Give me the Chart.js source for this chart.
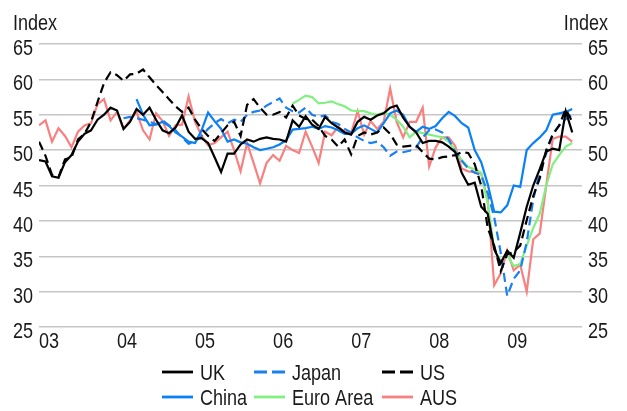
<!DOCTYPE html>
<html>
<head>
<meta charset="utf-8">
<script src="https://cdn.jsdelivr.net/npm/chart.js@4/dist/chart.umd.min.js"></script>
<style>
  html, body { margin: 0; padding: 0; background: #fff; }
</style>
</head>
<body>
<canvas id="chart" width="627" height="411"></canvas>
<script>
// monthly PMI-style index, Jan 2003 = month 0
const yearTicks = [0, 12, 24, 36, 48, 60, 72];
const yearLabels = ['03', '04', '05', '06', '07', '08', '09'];

const uk = [48.6, 48.4, 46.3, 46.1, 48.3, 49.3, 51.2, 52.3, 52.8, 54.3,
  55.0, 56.0, 55.6, 53.0, 54.0, 55.8, 55.0, 56.0, 54.3, 52.8,
  52.4, 53.2, 54.9, 52.6, 51.6, 51.7, 51.0, 49.0, 46.9, 49.5,
  49.5, 50.8, 51.5, 51.2, 51.6, 51.8, 51.6, 51.5, 51.2, 54.2,
  53.3, 54.8, 53.6, 53.0, 54.7, 53.8, 53.2, 52.5, 52.2, 54.0,
  54.7, 54.3, 54.9, 55.2, 56.0, 56.3, 54.6, 53.3, 52.5, 51.0,
  51.3, 51.3, 51.1, 50.5, 49.7, 46.8, 45.1, 45.4, 42.0, 41.0,
  36.0, 34.0, 35.8, 34.8, 38.3, 42.0, 45.0, 47.3, 49.8, 50.2,
  50.0, 55.5, 52.5];

const us = [51.2, 49.2, 46.5, 46.2, 48.7, 49.0, 51.5, 52.3, 54.0, 56.8,
  59.5, 61.0, 60.6, 59.8, 60.7, 60.8, 61.4, 60.3, 59.2, 58.2,
  57.2, 56.2, 55.4, 56.0, 54.3, 53.0, 52.0, 51.3, 52.4, 53.5,
  54.0, 52.0, 56.4, 57.2, 56.0, 55.0, 55.0, 55.4, 54.6, 56.3,
  54.9, 54.4, 54.3, 53.4, 52.0, 51.5, 50.5, 51.5, 49.4, 52.0,
  52.5, 52.2, 52.5, 53.2, 52.3, 50.8, 50.5, 50.6, 50.7, 49.7,
  48.8, 48.7, 49.0, 49.1, 49.3, 49.7, 49.6, 48.0, 45.0, 39.0,
  36.5, 32.9, 35.3, 35.6, 36.5, 40.1, 43.5, 46.0, 50.0, 52.2,
  53.5, 55.8, 54.0];

const aus = [53.5, 54.2, 51.2, 53.1, 52.0, 50.4, 52.6, 53.5, 53.8, 56.5,
  57.2, 54.2, 55.4, 53.0, 54.2, 55.4, 52.8, 51.5, 55.2, 54.1,
  52.0, 53.5, 53.6, 57.6, 54.0, 52.0, 50.7, 51.0, 51.8, 52.6,
  50.0, 47.0, 51.0, 48.2, 45.3, 48.2, 49.3, 48.5, 50.6, 50.0,
  49.6, 52.6, 50.5, 48.2, 52.6, 52.1, 53.3, 52.6, 52.4, 55.5,
  52.2, 54.1, 53.0, 54.0, 58.7, 54.0, 51.8, 54.0, 54.0, 56.0,
  47.7, 50.4, 51.8, 51.8, 50.6, 47.4, 47.0, 46.9, 46.7, 43.0,
  30.9, 32.6, 35.8, 33.0, 33.8, 30.0, 37.4, 38.2, 45.0, 51.6,
  51.9, 51.9, 51.2];

const chinaStart = 15;
const china = [57.2, 55.0, 53.5, 53.6, 54.0,
  53.4, 52.5, 51.9, 51.2, 51.0, 52.8, 55.3, 54.1, 53.0, 51.2,
  51.5, 51.1, 50.9, 50.4, 50.0, 50.2, 50.4, 50.8, 51.4, 52.9,
  53.0, 53.1, 53.3, 53.0, 53.4, 53.2, 52.8, 52.3, 52.3, 53.1,
  53.5, 53.0, 52.5, 53.8, 55.2, 55.6, 55.0, 53.3, 52.6, 53.3,
  53.0, 53.4, 54.5, 55.4, 54.8, 53.8, 53.2, 50.0, 48.3, 45.2,
  41.3, 41.2, 42.2, 45.0, 44.8, 50.0, 51.0, 51.8, 52.8, 55.0,
  55.2, 55.4, 55.8];

const japanStart = 13;
const japan = [54.5, 54.7, 54.5, 54.3, 54.0, 53.7, 54.2,
  53.5, 52.8, 51.8, 50.9, 51.2, 52.0, 53.0, 53.8, 54.4, 53.8,
  54.3, 54.0, 55.0, 55.4, 55.6, 56.3, 56.8, 57.3, 56.0, 55.5,
  55.3, 56.0, 55.0, 54.7, 54.9, 54.0, 53.7, 53.0, 52.5, 51.8,
  51.3, 51.0, 51.2, 50.4, 49.2, 49.8, 49.7, 49.9, 50.4, 51.8,
  52.8, 52.9, 52.5, 51.5, 49.8, 48.5, 47.4, 46.8, 46.5, 44.0,
  40.5, 35.5, 29.4, 31.8, 33.0, 37.0, 43.0, 47.0, 49.5, 52.3,
  53.5, 54.4, 55.0];

const euroStart = 39;
const euro = [56.6,
  57.1, 57.7, 57.5, 56.6, 56.7, 56.9, 56.5, 56.2, 55.6, 55.5,
  55.5, 55.2, 55.0, 55.3, 55.0, 54.3, 53.3, 51.8, 52.6, 52.4,
  52.2, 52.0, 51.8, 51.2, 50.0, 48.6, 47.6, 47.3, 46.8, 42.5,
  36.0, 34.3, 35.2, 33.6, 33.9, 36.5, 39.0, 41.0, 45.0, 48.0,
  49.3, 50.5, 51.0];

const legendOrder = ['UK', 'Japan', 'US', 'China', 'Euro Area', 'AUS'];

const FONT = "'Liberation Sans', Arial, sans-serif";
const TEXT = '#1a1a1a';
const NARROW = 0.82; // squeeze Liberation Sans to Arial Narrow proportions

const toPoints = (arr, start) => arr.map((v, i) => ({ x: start + i, y: v }));

const line = (label, arr, start, color, dash) => ({
  label,
  data: toPoints(arr, start),
  borderColor: color,
  borderWidth: 2.2,
  borderDash: dash,
  pointRadius: 0,
  tension: 0,
  fill: false
});

// first dataset is drawn on top
const datasets = [
  line('UK', uk, 0, '#000000', []),
  line('US', us, 0, '#000000', [9, 5]),
  line('Japan', japan, japanStart, '#1a80f0', [9, 5]),
  line('China', china, chinaStart, '#0a80f5', []),
  line('Euro Area', euro, euroStart, '#80f080', []),
  line('AUS', aus, 0, '#f88080', [])
];

function narrowText(ctx, str, x, y, align) {
  ctx.save();
  ctx.translate(x, y);
  ctx.scale(NARROW, 1);
  ctx.textAlign = align;
  ctx.fillText(str, 0, 0);
  ctx.restore();
}

// tick labels (positions from the chart's scales), legend and captions
const legendCols = [162, 254, 382];
const legendRows = [372, 397];
const extras = {
  id: 'extras',
  afterDraw(chart) {
    const ctx = chart.ctx;
    const { x, y, y2 } = chart.scales;
    ctx.save();
    ctx.font = '22px ' + FONT;
    ctx.fillStyle = TEXT;
    ctx.textBaseline = 'alphabetic';

    y.ticks.forEach(t => {
      const py = y.getPixelForValue(t.value);
      narrowText(ctx, String(t.value), y.right - 6, py + 11, 'right');
    });
    y2.ticks.forEach(t => {
      const py = y2.getPixelForValue(t.value);
      narrowText(ctx, String(t.value), y2.left + 6, py + 11, 'left');
    });
    x.ticks.forEach(t => {
      const px = x.getPixelForValue(t.value);
      narrowText(ctx, yearLabels[yearTicks.indexOf(t.value)], px, chart.chartArea.bottom + 21, 'left');
    });

    legendOrder.forEach((name, i) => {
      const ds = chart.data.datasets.find(d => d.label === name);
      const lx = legendCols[i % 3];
      const ly = legendRows[Math.floor(i / 3)];
      ctx.strokeStyle = ds.borderColor;
      ctx.lineWidth = 2.8;
      ctx.setLineDash(ds.borderDash.length ? [13, 5] : []);
      ctx.beginPath();
      ctx.moveTo(lx, ly);
      ctx.lineTo(lx + 31, ly);
      ctx.stroke();
      ctx.setLineDash([]);
      narrowText(ctx, name, lx + 38, ly + 8, 'left');
    });

    narrowText(ctx, 'Index', 13, 30, 'left');
    narrowText(ctx, 'Index', 608, 30, 'right');
    ctx.restore();
  }
};

new Chart(document.getElementById('chart').getContext('2d'), {
  type: 'line',
  data: { datasets },
  options: {
    responsive: false,
    animation: false,
    layout: { padding: { top: 44, left: 0, right: 0, bottom: 0 } },
    plugins: { legend: { display: false }, tooltip: { enabled: false } },
    scales: {
      x: {
        type: 'linear',
        min: 0,
        max: 83.5,
        grid: { display: false },
        border: { display: false },
        afterBuildTicks: s => { s.ticks = yearTicks.map(v => ({ value: v })); },
        afterFit: s => { s.height = 84; },
        ticks: { display: false }
      },
      y: {
        position: 'left',
        min: 25,
        max: 65,
        ticks: { stepSize: 5, display: false },
        grid: { color: '#c6c6c6', lineWidth: 1.5, drawTicks: false },
        border: { display: false },
        afterFit: s => { s.width = 39; }
      },
      y2: {
        position: 'right',
        min: 25,
        max: 65,
        ticks: { stepSize: 5, display: false },
        grid: { display: false, drawTicks: false },
        border: { display: false },
        afterFit: s => { s.width = 45; }
      }
    }
  },
  plugins: [extras]
});
</script>
</body>
</html>
